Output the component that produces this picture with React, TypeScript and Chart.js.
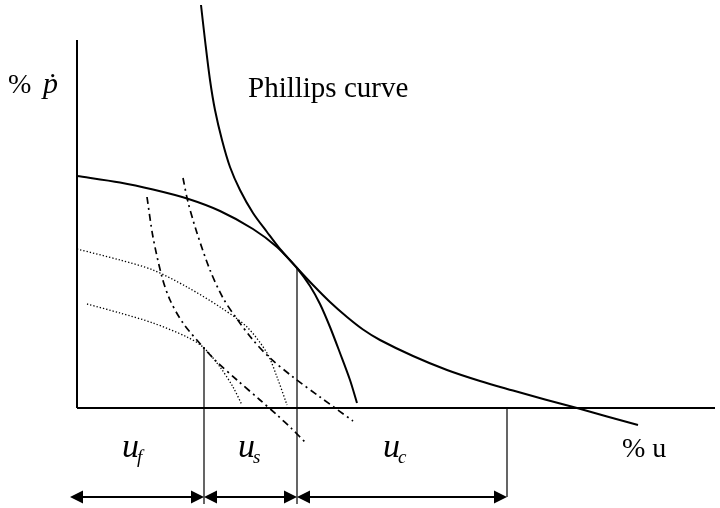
import React, { useEffect, useRef } from "react";
import { Chart, registerables } from "chart.js";

Chart.register(...registerables);

// Units: x = % unemployment (arbitrary diagram units), y = % inflation (arbitrary units)
const phillipsX = [12.4, 12.8, 13.3, 13.8, 14.5, 15.3, 16.3, 17.6, 19.0, 20.3, 22.0, 23.3, 24.3, 25.3, 26.3, 27.3, 28.0];
const phillipsY = [40.3, 36.8, 32.8, 29.8, 26.8, 24.1, 21.8, 19.5, 17.6, 15.9, 14.0, 12.2, 10.4, 8.1, 5.5, 2.8, 0.5];

const longRunX = [0, 4.3, 7.6, 11.0, 14.3, 17.6, 20.0, 22.0, 23.6, 25.3, 27.0, 28.6, 30.3, 33.6, 37.0, 40.3, 43.6, 46.8, 50.0, 53.0, 56.1];
const longRunY = [23.2, 22.55, 21.85, 20.95, 19.7, 17.9, 16.1, 14.0, 12.3, 10.6, 9.1, 7.85, 6.8, 5.2, 3.8, 2.7, 1.75, 0.85, 0.0, -0.85, -1.7];

const dotUpperX = [0, 4.3, 7.6, 11.0, 14.3, 17.0, 19.0, 20.0, 21.0];
const dotUpperY = [15.9, 14.8, 13.8, 12.1, 10.1, 8.1, 5.5, 3.1, 0.3];

const dotLowerX = [1.0, 4.3, 7.6, 11.0, 12.6, 14.3, 15.6, 16.5];
const dotLowerY = [10.4, 9.5, 8.5, 7.1, 6.1, 4.1, 2.1, 0.3];

const dashLeftX = [7.0, 7.6, 8.5, 9.3, 10.6, 12.6, 14.0, 16.0, 18.3, 20.0, 21.5, 22.8];
const dashLeftY = [21.1, 17.1, 13.1, 10.8, 8.5, 6.1, 4.6, 2.8, 0.8, -0.7, -2.1, -3.4];

const dashRightX = [10.6, 11.1, 12.0, 13.3, 14.6, 16.0, 17.6, 19.3, 21.6, 24.3, 27.6];
const dashRightY = [23.0, 20.6, 17.5, 13.8, 11.0, 8.9, 6.8, 5.0, 3.1, 1.1, -1.3];

// Axes extents
const xAxisEnd = 63.8;
const yAxisEnd = 36.8;

// Guide (vertical) lines
const guideX = [12.7, 22.0, 43.0];
const guideTop = [6.1, 14.0, -0.1];
const guideBottom = [-9.6, -9.6, -8.9];

// Dimension arrows
const dimBounds = [-0.7, 12.7, 22.0, 43.0];
const dimY = -8.9;

// Text labels
const labelTexts = ["Phillips curve", "%", "% u"];
const labelX = [17.1, -6.9, 54.5];
const labelY = [31.1, 31.5, -4.9];

const segLabelMain = ["u", "u", "u"];
const segLabelSub = ["f", "s", "c"];
const segLabelX = [4.5, 16.1, 30.6];
const segLabelY = [-4.9, -4.9, -4.9];

const pts = (xs: number[], ys: number[]) => xs.map((x, i) => ({ x, y: ys[i] }));

const SERIF = "'Liberation Serif', 'Times New Roman', serif";

const overlayPlugin = {
  id: "overlay",
  afterDatasetsDraw(chart: any) {
    const ctx = chart.ctx as CanvasRenderingContext2D;
    const xs = chart.scales.x;
    const ys = chart.scales.y;
    ctx.save();
    ctx.fillStyle = "#000";
    ctx.strokeStyle = "#000";

    // dimension arrows
    const py = ys.getPixelForValue(dimY);
    const head = 13;
    const half = 6.5;
    for (let i = 0; i < dimBounds.length - 1; i++) {
      const a = xs.getPixelForValue(dimBounds[i]);
      const b = xs.getPixelForValue(dimBounds[i + 1]);
      ctx.lineWidth = 2;
      ctx.beginPath();
      ctx.moveTo(a + head - 1, py);
      ctx.lineTo(b - head + 1, py);
      ctx.stroke();
      ctx.beginPath();
      ctx.moveTo(a, py);
      ctx.lineTo(a + head, py - half);
      ctx.lineTo(a + head, py + half);
      ctx.closePath();
      ctx.fill();
      ctx.beginPath();
      ctx.moveTo(b, py);
      ctx.lineTo(b - head, py - half);
      ctx.lineTo(b - head, py + half);
      ctx.closePath();
      ctx.fill();
    }

    ctx.textAlign = "left";
    ctx.textBaseline = "alphabetic";
    // plain labels
    labelTexts.forEach((t, i) => {
      ctx.font = `${i === 0 ? 29 : 28}px ${SERIF}`;
      ctx.fillText(t, xs.getPixelForValue(labelX[i]), ys.getPixelForValue(labelY[i]));
    });
    // inflation symbol p-dot
    {
      const x0 = xs.getPixelForValue(labelX[1]);
      const y0 = ys.getPixelForValue(labelY[1]);
      ctx.font = `italic 30px ${SERIF}`;
      ctx.fillText("\u1E57", x0 + 35, y0);
    }
    // segment labels
    segLabelMain.forEach((t, i) => {
      const x0 = xs.getPixelForValue(segLabelX[i]);
      const y0 = ys.getPixelForValue(segLabelY[i]);
      ctx.font = `italic 34px ${SERIF}`;
      ctx.fillText(t, x0, y0);
      const w = ctx.measureText(t).width;
      ctx.font = `italic 19px ${SERIF}`;
      ctx.fillText(segLabelSub[i], x0 + w - 2, y0 + 6);
    });
    ctx.restore();
  },
};

export default function App() {
  const ref = useRef<HTMLCanvasElement | null>(null);
  useEffect(() => {
    if (!ref.current) return;
    const solid = (data: any[], w = 2) => ({
      data,
      showLine: true,
      borderColor: "#000",
      borderWidth: w,
      pointRadius: 0,
      tension: 0.3,
      fill: false,
    });
    const chart = new Chart(ref.current, {
      type: "scatter",
      data: {
        datasets: [
          { ...solid(pts([0, xAxisEnd], [0, 0]), 2), tension: 0 },
          { ...solid(pts([0, 0], [0, yAxisEnd]), 2), tension: 0 },
          solid(pts(phillipsX, phillipsY), 2),
          solid(pts(longRunX, longRunY), 2),
          { ...solid(pts(dotUpperX, dotUpperY), 1.3), borderDash: [1.3, 2] },
          { ...solid(pts(dotLowerX, dotLowerY), 1.3), borderDash: [1.3, 2] },
          { ...solid(pts(dashLeftX, dashLeftY), 1.7), borderDash: [7, 4, 2, 4] },
          { ...solid(pts(dashRightX, dashRightY), 1.7), borderDash: [7, 4, 2, 4] },
          ...guideX.map((gx, i) => ({ ...solid(pts([gx, gx], [guideTop[i], guideBottom[i]]), 1.2), tension: 0 })),
        ] as any,
      },
      options: {
        animation: false,
        responsive: false,
        maintainAspectRatio: false,
        layout: { padding: 0 },
        plugins: { legend: { display: false }, tooltip: { enabled: false } },
        scales: {
          x: { type: "linear", min: -7.7, max: 64.3, display: false },
          y: { type: "linear", min: -10, max: 40.8, display: false },
        },
      },
      plugins: [overlayPlugin],
    });
    return () => chart.destroy();
  }, []);
  return (
    <div style={{ position: "fixed", left: 0, top: 0, width: 720, height: 508, background: "#fff" }}>
      <canvas ref={ref} width={720} height={508} style={{ width: 720, height: 508, display: "block" }} />
    </div>
  );
}
